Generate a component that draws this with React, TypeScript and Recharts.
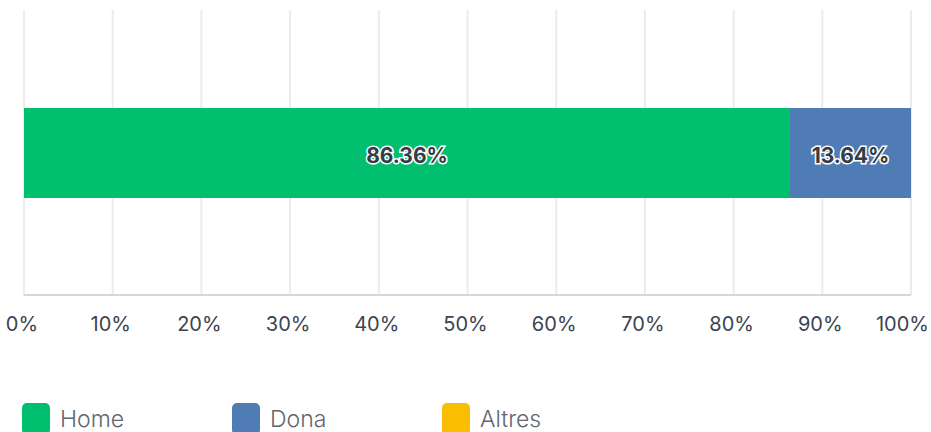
import { BarChart, Bar, XAxis, YAxis, CartesianGrid, LabelList } from 'recharts';

// dades
const categories = ['Resposta'];
const seriesNames = ['Home', 'Dona', 'Altres'];
const seriesValues = [86.36, 13.64, 0];
const seriesColors = ['#00bf6f', '#507cb6', '#f9be00'];
const xTicks = [0, 10, 20, 30, 40, 50, 60, 70, 80, 90, 100];

const data = categories.map((name) => {
  const row: Record<string, string | number> = { name };
  seriesNames.forEach((s, i) => {
    row[s] = seriesValues[i];
  });
  return row;
});

const font = 'Inter, "Noto Sans", sans-serif';

const fmtLabel = (v: any) => (Number(v) > 0 ? `${Number(v).toFixed(2)}%` : '');

// l'ultim tick s'alinea a la dreta perque no quedi tallat
const XTick = (props: any) => {
  const { x, y, payload } = props;
  const last = payload.value === xTicks[xTicks.length - 1];
  return (
    <text
      x={last ? 929 : x - 2}
      y={y}
      dy="0.71em"
      textAnchor={last ? 'end' : 'middle'}
      fill="#3b4450"
      fontSize={20}
      fontFamily={font}
    >
      {`${payload.value}%`}
    </text>
  );
};

export default function App() {
  return (
    <div style={{ position: 'absolute', left: 0, top: 0, width: 931, height: 432, fontFamily: font, overflow: 'hidden' }}>
      <BarChart
        width={931}
        height={432}
        data={data}
        layout="vertical"
        margin={{ top: 10, right: 20, left: 24, bottom: 97 }}
      >
        <CartesianGrid horizontal={false} stroke="#ebebeb" strokeWidth={2} />
        <XAxis
          type="number"
          domain={[0, 100]}
          ticks={xTicks}
          height={40}
          tickLine={false}
          tickSize={0}
          tickMargin={22}
          axisLine={{ stroke: '#d6d6d6', strokeWidth: 2 }}
          tick={<XTick />}
          interval={0}
        />
        <YAxis
          type="category"
          dataKey="name"
          width={0}
          tick={false}
          tickLine={false}
          axisLine={{ stroke: '#cccccc', strokeWidth: 2 }}
        />
        {seriesNames.map((s, i) => (
          <Bar key={s} dataKey={s} stackId="a" fill={seriesColors[i]} barSize={90} isAnimationActive={false}>
            <LabelList
              dataKey={s}
              position="center"
              formatter={fmtLabel}
              dy={3}
              style={{
                fill: '#333e48',
                stroke: '#ffffff',
                strokeWidth: 3,
                paintOrder: 'stroke',
                fontWeight: 700,
                fontSize: 21,
                fontFamily: font,
              }}
            />
          </Bar>
        ))}
      </BarChart>
      <div style={{ position: 'absolute', left: 22, top: 403, display: 'flex' }}>
        {seriesNames.map((s, i) => (
          <div key={s} style={{ width: 210, display: 'flex', alignItems: 'flex-start' }}>
            <span
              style={{
                display: 'inline-block',
                width: 28,
                height: 32,
                borderRadius: 5,
                background: seriesColors[i],
                marginRight: 10,
              }}
            />
            <span style={{ fontSize: 23, fontWeight: 300, color: '#5f6670', lineHeight: '32px' }}>{s}</span>
          </div>
        ))}
      </div>
    </div>
  );
}
